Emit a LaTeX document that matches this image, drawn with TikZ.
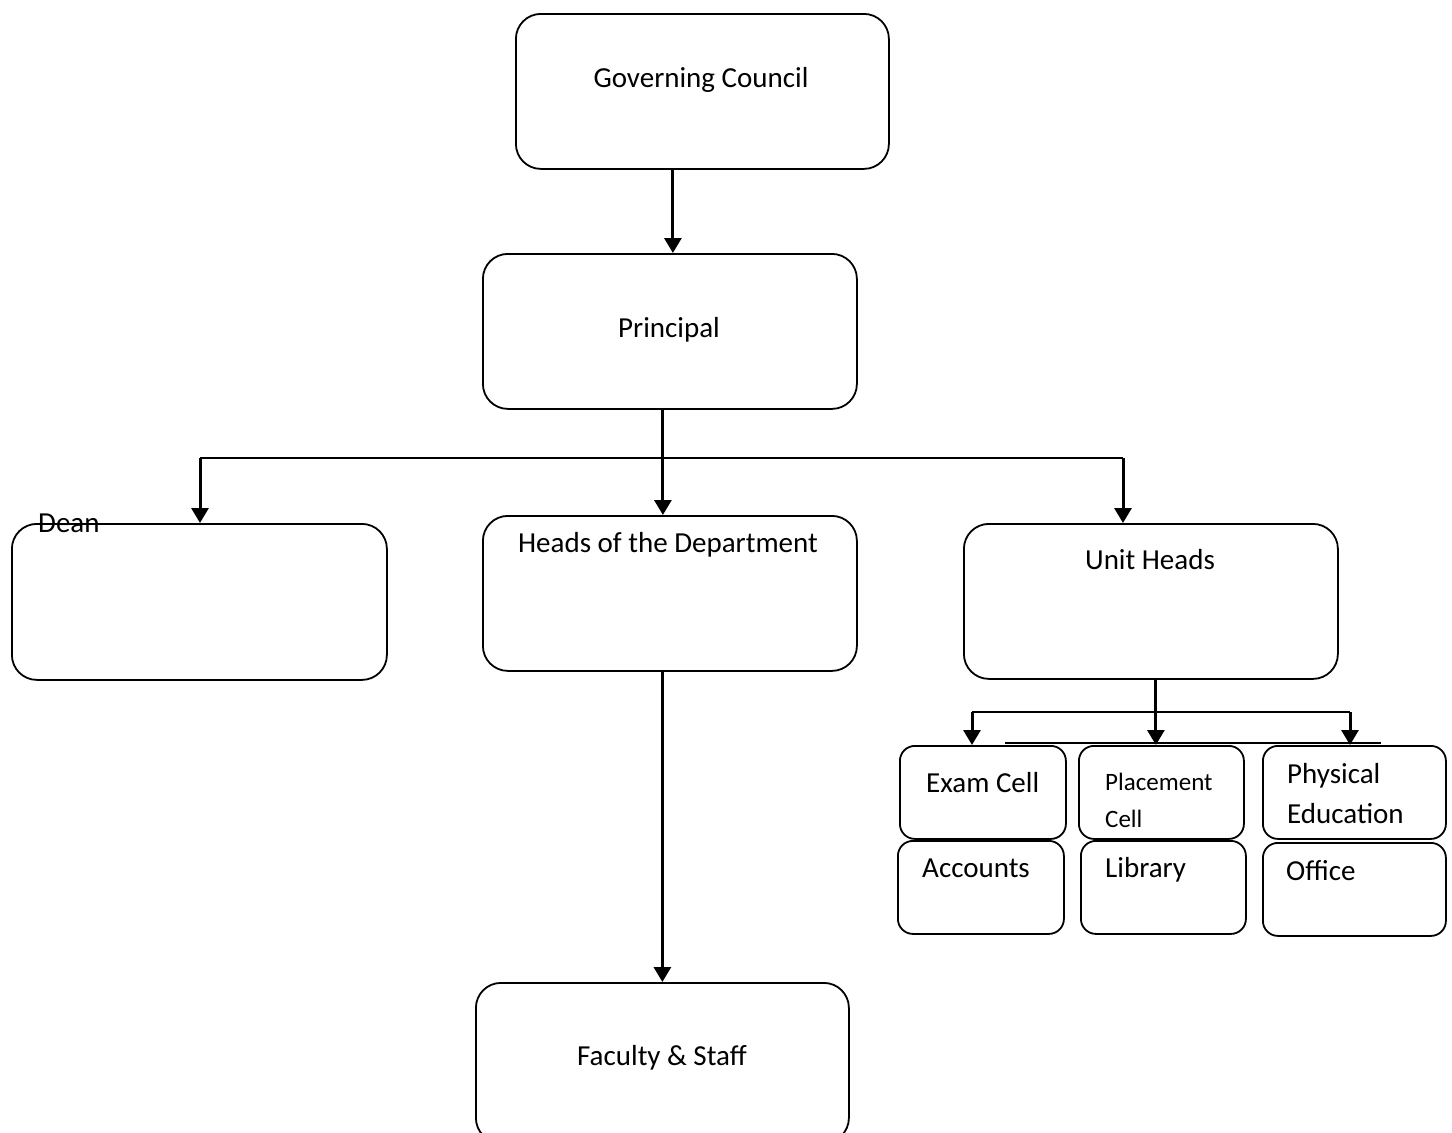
\documentclass[tikz,border=0pt]{standalone}
\usepackage{fontspec}
\setmainfont{Carlito}
\usetikzlibrary{arrows.meta}
\usetikzlibrary{positioning}

\tikzset{
  box/.style={draw,line width=1.8pt,rounded corners=25pt,anchor=north west,inner sep=0pt},
  smallbox/.style={box,rounded corners=15pt},
  lbl/.style={inner sep=0pt,font=\fontsize{29}{41}\selectfont},
  conn/.style={line width=3pt,-{Triangle[width=17pt,length=15pt]}},
  bus/.style={line width=2pt}
}

\begin{document}
\begin{tikzpicture}[line cap=butt,line join=round,x=1pt,y=-1pt]
\useasboundingbox (0,0) rectangle (1452,1133);
% top of the chart
\node[box,minimum width=373pt,minimum height=155pt] (gc) at (515,13) {};
\node[lbl,anchor=base] (gctext) at (701,87) {Governing Council};
\node[box,minimum width=374pt,minimum height=155pt] (pr) at (482,253) {};
\node[lbl,anchor=base] (prtext) at (669,337) {Principal};
\draw[conn] ([xshift=3pt]pr.north |- gc.south) -- ([xshift=3pt]pr.north);
% second row
\node[box,minimum width=375pt,minimum height=156pt] (dean) at (11,523) {};
\node[lbl,anchor=base west] (deantext) at (38,532) {Dean};
\node[box,minimum width=374pt,minimum height=155pt] (hod) at (482,515) {};
\node[lbl,anchor=base] (hodtext) at (668,552) {Heads of the Department};
\node[box,minimum width=374pt,minimum height=155pt] (uh) at (963,523) {};
\node[lbl,anchor=base] (uhtext) at (1150,569) {Unit Heads};
\coordinate (dn) at (200,458);
\coordinate (un) at (1123,458);
\draw[bus] (dn) -- (un);
\draw[conn] ([xshift=-7pt]pr.south) -- ([xshift=-7pt]hod.north);
\draw[conn] (dn) -- (dn |- dean.north);
\draw[conn] (un) -- (un |- uh.north);
% faculty
\node[box,minimum width=373pt,minimum height=160pt] (fac) at (475,982) {};
\node[lbl,anchor=base] (factext) at (662,1065) {Faculty \& Staff};
\draw[conn] (fac.north |- hod.south) -- (fac.north);
% unit boxes
\node[smallbox,minimum width=166pt,minimum height=93pt] (exam) at (899,745) {};
\node[lbl,anchor=base west] (examtext) at (926,792) {Exam Cell};
\node[smallbox,minimum width=165pt,minimum height=93pt] (place) at (1078,745) {};
\node[lbl,anchor=base west,align=left,font=\fontsize{25}{37}\selectfont] (placetext) at (1105,827) {Placement\\Cell};
\node[smallbox,minimum width=183pt,minimum height=93pt] (phys) at (1262,745) {};
\node[lbl,anchor=base west,align=left,font=\fontsize{29}{40}\selectfont] (phystext) at (1287,823) {Physical\\Education};
\node[smallbox,minimum width=166pt,minimum height=93pt] (acc) at (897,840) {};
\node[lbl,anchor=base west] (acctext) at (922,877) {Accounts};
\node[smallbox,minimum width=165pt,minimum height=93pt] (lib) at (1080,840) {};
\node[lbl,anchor=base west] (libtext) at (1105,877) {Library};
\node[smallbox,minimum width=183pt,minimum height=93pt] (off) at (1262,842) {};
\node[lbl,anchor=base west] (offtext) at (1286,880) {Office};
\coordinate (ul) at (972,712);
\coordinate (ur) at (1350,712);
\draw[bus] (ul) -- (ur);
\draw[bus] (1005,743) -- (1381,743);
\draw[conn] (ul) -- (ul |- exam.north);
\draw[conn] ([xshift=5pt]uh.south) -- ([xshift=5pt]uh.south |- place.north);
\draw[conn] (ur) -- (ur |- phys.north);
\end{tikzpicture}
\end{document}
